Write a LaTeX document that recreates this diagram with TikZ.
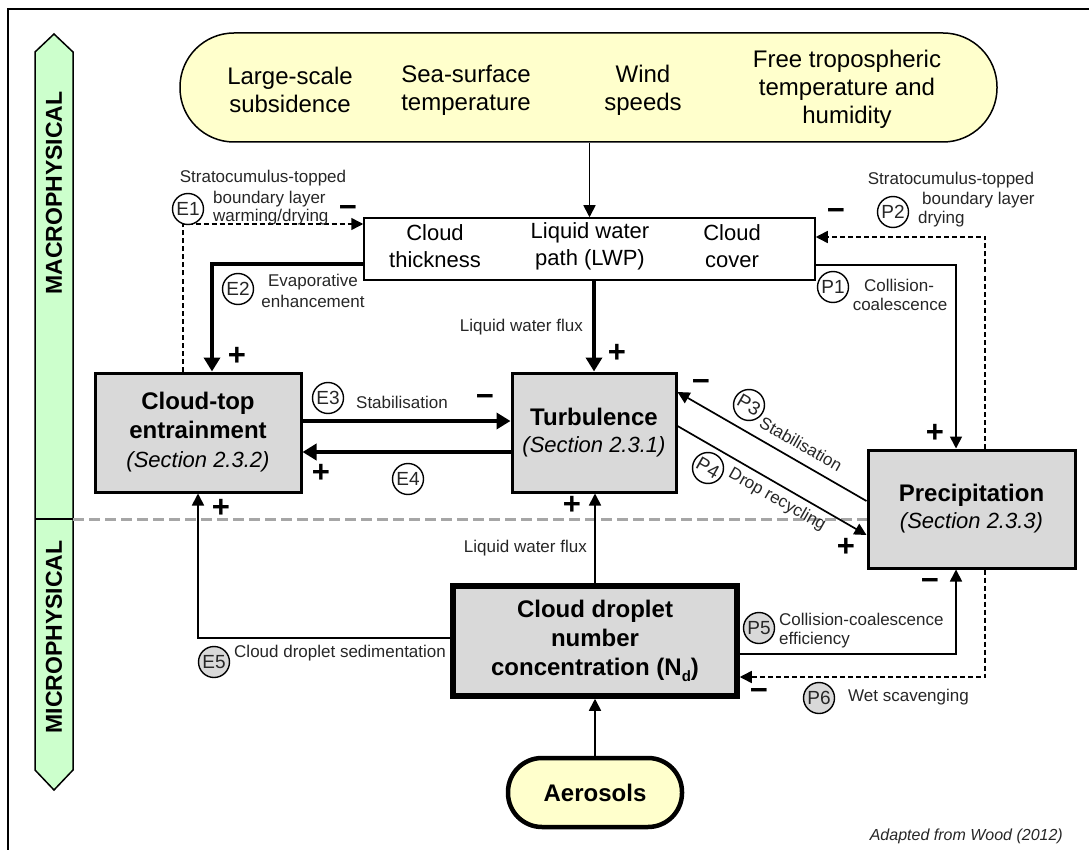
\documentclass[tikz,border=0pt]{standalone}
\usepackage{fontspec}
\setmainfont{Liberation Sans}
\usetikzlibrary{arrows.meta,calc}
\definecolor{ylw}{HTML}{FFFFCC}
\definecolor{gbox}{HTML}{D9D9D9}
\definecolor{grn}{HTML}{CCFFCC}
\definecolor{lblc}{HTML}{262626}
\definecolor{divc}{HTML}{A6A6A6}
\begin{document}
\begin{tikzpicture}[x=1pt,y=-1pt,
 lbl/.style={inner sep=0pt,text=lblc,font=\fontsize{17}{20}\selectfont},
 circ/.style={circle,draw,line width=1.4pt,minimum size=31pt,inner sep=0pt,text=lblc,font=\fontsize{19}{19}\selectfont,fill=white},
 circg/.style={circ,fill=gbox},
 sgn/.style={inner sep=0pt,font=\fontsize{31}{31}\selectfont\bfseries},
 thinarr/.style={line width=1.7pt,-{Triangle[length=12pt,width=12pt]}},
 thickarr/.style={line width=4pt,-{Triangle[length=14pt,width=16pt]}},
 dasharr/.style={line width=1.5pt,dash pattern=on 5pt off 3pt,-{Triangle[length=12pt,width=12pt]}},
 gbx/.style={draw,line width=3pt,fill=gbox,inner sep=0pt,align=center},
 toptxt/.style={inner sep=0pt,align=center,font=\fontsize{24}{28}\selectfont},
 lwptxt/.style={inner sep=0pt,align=center,font=\fontsize{22}{27}\selectfont},
 bandtxt/.style={inner sep=0pt,rotate=90,font=\fontsize{23}{23}\selectfont\bfseries}
]
\useasboundingbox (0,0) rectangle (1089,850);
% frame
\draw[line width=1.5pt] (8,855) -- (8,9) -- (1095,9);
% side band
\draw[fill=grn,line width=1.5pt] (35,52) -- (54,34) -- (73,52) -- (73,770) -- (54,790) -- (35,770) -- cycle;
\draw[line width=1.5pt] (35,519) -- (73,519);
\node[bandtxt] (macro) at (54,193) {MACROPHYSICAL};
\node[bandtxt] (micro) at (54,637) {MICROPHYSICAL};
\coordinate (divl) at (73,519);

% boxes
\node[draw,line width=1.5pt,fill=ylw,rounded corners=54pt,minimum width=817pt,minimum height=109pt] (top) at (588.5,87.5) {};
\node[toptxt] (t1) at (290,90) {Large-scale\\subsidence};
\node[toptxt] (t2) at (466,90) {Sea-surface\\temperature};
\node[toptxt] (t3) at (643,90) {Wind\\speeds};
\node[toptxt] (t4) at (847,89.5) {Free tropospheric\\temperature and\\humidity};

\node[draw,line width=1.5pt,fill=white,minimum width=451pt,minimum height=62pt] (lwp) at (589.5,249) {};
\node[lwptxt] (l1) at (435,246) {Cloud\\thickness};
\node[lwptxt] (l2) at (590,246) {Liquid water\\path (LWP)};
\node[lwptxt] (l3) at (732,246) {Cloud\\cover};

\node[gbx,minimum width=206pt,minimum height=119pt,font=\fontsize{24}{29}\selectfont\bfseries] (ent) at (198,432.5)
 {Cloud-top\\entrainment\\{\fontsize{22}{29}\selectfont\mdseries\itshape (Section 2.3.2)}};
\node[gbx,minimum width=164pt,minimum height=119pt,font=\fontsize{24}{27}\selectfont\bfseries] (turb) at (594,432.5)
 {Turbulence\\{\fontsize{22}{27}\selectfont\mdseries\itshape (Section 2.3.1)}};
\node[gbx,minimum width=207pt,minimum height=118pt,font=\fontsize{24}{27}\selectfont\bfseries] (prec) at (971.5,509)
 {Precipitation\\{\fontsize{22}{27}\selectfont\mdseries\itshape (Section 2.3.3)}};
\node[gbx,line width=5.5pt,minimum width=284pt,minimum height=110pt,font=\fontsize{24}{29}\selectfont\bfseries] (drop) at (595,641)
 {Cloud droplet\\number\\concentration (N\raisebox{-0.22em}{\fontsize{15}{15}\selectfont d})};
\node[draw,line width=4.5pt,fill=ylw,rounded corners=34pt,minimum width=174pt,minimum height=69pt,inner sep=0pt,font=\fontsize{24}{24}\selectfont\bfseries] (aero) at (595,792.5) {Aerosols};

% divider line
\draw[divc,line width=3pt,dash pattern=on 11pt off 5pt] (divl) -- (divl -| prec.west);

% connectors
\draw[thinarr] (lwp.north |- top.south) -- (lwp.north);
\draw[dasharr] ([xshift=-15pt]ent.north) |- ([yshift=25pt]lwp.west);
\draw[thickarr] ([yshift=-15pt]lwp.west) -| ([xshift=14pt]ent.north);
\draw[thickarr] (turb.north |- lwp.south) -- (turb.north);
\draw[thickarr] ([yshift=11.5pt]ent.east) -- ([yshift=11.5pt]turb.west);
\draw[thickarr] ([yshift=-19.5pt]turb.west) -- ([yshift=-19.5pt]ent.east);
\draw[thinarr] ([yshift=-16pt]lwp.east) -| ([xshift=-15.5pt]prec.north);
\draw[dasharr] ([xshift=13.5pt]prec.north) |- ([yshift=12pt]lwp.east);
\draw[thinarr] ([yshift=8pt]prec.west) -- ([yshift=40.5pt]turb.east);
\draw[thinarr] ([yshift=6.5pt]turb.east) -- ([yshift=-26pt]prec.west);
\draw[thinarr] ([yshift=3pt]drop.west) -| (ent.south);
\draw[thinarr] (drop.north) -- (drop.north |- turb.south);
\draw[thinarr] ([yshift=-13pt]drop.east) -| ([xshift=-15.5pt]prec.south);
\draw[dasharr] ([xshift=13.5pt]prec.south) |- ([yshift=-36pt]drop.east);
\draw[thinarr] (aero.north) -- (aero.north |- drop.south);

% E labels
\node[circ] (e1) at (188,209) {E1};
\node[lbl] (e1a) at (263,178) {Stratocumulus-topped};
\node[lbl,anchor=west] (e1b) at (213,199) {boundary layer};
\node[lbl,anchor=west] (e1c) at (213,217) {warming/drying};
\node[sgn] (s1) at (348,211) {−};
\node[circ] (e2) at (238,289) {E2};
\node[lbl] (e2a) at (313,282) {Evaporative};
\node[lbl] (e2b) at (313,301) {enhancement};
\node[sgn] (s2) at (237,356) {+};
\node[lbl,anchor=east] (lwf1) at (583,327) {Liquid water flux};
\node[sgn] (s3) at (617,353) {+};
\node[circ] (e3) at (328,398) {E3};
\node[lbl] (e3a) at (402,402) {Stabilisation};
\node[sgn] (s4) at (485,400) {−};
\node[circ] (e4) at (408,479) {E4};
\node[sgn] (s5) at (321,473) {+};
\node[sgn] (s6) at (221,508) {+};
\node[sgn] (s7) at (572,505) {+};
\node[lbl,anchor=east] (lwf2) at (587,548) {Liquid water flux};
\node[circg] (e5) at (214,662) {E5};
\node[lbl,anchor=west] (e5a) at (234,653) {Cloud droplet sedimentation};

% P labels
\node[circ] (p1) at (833,287) {P1};
\node[lbl] (p1a) at (899,285) {Collision-};
\node[lbl] (p1b) at (900,304) {coalescence};
\node[circ] (p2) at (893,212) {P2};
\node[lbl] (p2a) at (951,180) {Stratocumulus-topped};
\node[lbl,anchor=west] (p2b) at (922,200) {boundary layer};
\node[lbl,anchor=west] (p2c) at (918,219) {drying};
\node[sgn] (s8) at (836,214) {−};
\node[sgn] (s9) at (935,433) {+};
\node[circ,rotate=-29.6] (p3) at (749,405) {P3};
\node[lbl,rotate=-29.6] (p3a) at (801,444) {Stabilisation};
\node[sgn] (s10) at (701,385) {−};
\node[circ,rotate=-29.6] (p4) at (708,468) {P4};
\node[lbl,rotate=-29.6] (p4a) at (777,500) {Drop recycling};
\node[sgn] (s11) at (846,547) {+};
\node[circg] (p5) at (759,628) {P5};
\node[lbl,anchor=west] (p5a) at (779,619) {Collision-coalescence};
\node[lbl,anchor=west] (p5b) at (779,640) {efficiency};
\node[sgn] (s12) at (930,584) {−};
\node[circg] (p6) at (819,698) {P6};
\node[lbl,anchor=west] (p6a) at (848,697) {Wet scavenging};
\node[sgn] (s13) at (759,694) {−};

\node[lbl,anchor=east,font=\fontsize{16}{16}\selectfont\itshape] (src) at (1063,836) {Adapted from Wood (2012)};
\end{tikzpicture}
\end{document}
